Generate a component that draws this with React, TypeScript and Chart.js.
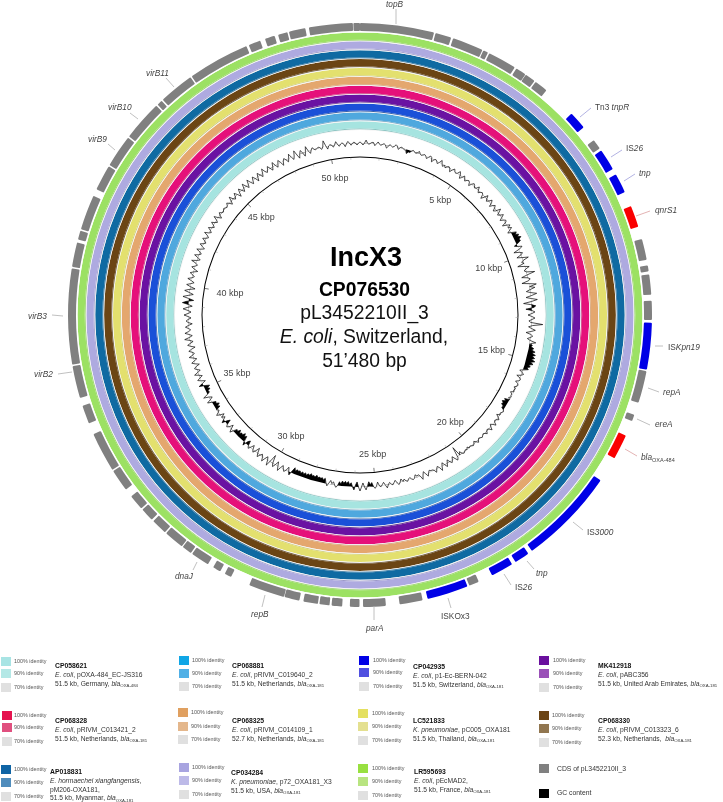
import React, { useEffect, useRef } from "react";
import Chart from "chart.js/auto";

const GENOME_LENGTH = 51480;

// CDS ring (bp)
const cdsStart = [0,2145,2660,3575,3761,4633,4948,5291,6635,7608,7965,8752,9738,10711,11469,11726,12470,13085,14457,15730,16359,17804,20706,21250,22308,22651,23967,25011,25754,26241,26598,26927,27456,27899,29487,29830,30230,30802,31117,31732,32247,32676,33362,34034,35493,36251,37209,39969,40755,41055,42257,43029,44001,45202,45403,46446,48277,48763,49149,49464,50036,51294];
const cdsEnd = [2102,2603,3546,3718,4576,4934,5248,5677,7150,7894,8580,9309,10353,11311,11640,12298,13013,14414,15373,15916,17074,20578,21135,21893,22594,23824,24625,25654,26026,26541,26884,27342,27885,28929,29687,30059,30759,31088,31689,32189,32633,33119,33991,35164,36022,37166,39926,40669,41012,42056,42986,43958,45159,45360,46404,48205,48620,49049,49421,49936,51280,51480];
const cdsType = ["c","c","c","c","c","c","c","c","m","c","m","m","r","c","c","c","c","m","c","c","r","m","m","m","c","m","c","c","c","c","c","c","c","c","c","c","c","c","c","c","c","c","c","c","c","c","c","c","c","c","c","c","c","c","c","c","c","c","c","c","c","c"];

// BLAST rings, outermost first
const ringNames = ["LR595693","CP034284","AP018831","CP068330","LC521833","CP068325","CP068328","MK412918","CP042935","CP068881","CP058621"];
const ringColors = ["#9ce163","#aeaae0","#0f6aa2","#6b4514","#e3e06e","#e4a76e","#e5107a","#6a12a2","#1a50d8","#4fa8de","#a6e4e0"];
const ringEdges = ["#92cf64","#9c99c8","#2f7098","#655030","#c8c66e","#cf9c70","#c9357c","#653a90","#3a62a8","#6aa0c0","#8cc4c2"];

// GC content: deviation from the mean, two values per degree
const gc000 = [1,0,-2,0,3,0,-1,0,1,1,-2,0,2,0,-1,0,1,0,-3,-1,1,0,-1,0,2,1,-2,0,1,0,-1,-1,-4,-2,-2,0,1,0,-1,0,2,0,-1,0,1,0,-2,0,2,1,-3,0,1,0,-2,0,3,0,-2,0];
const gc030 = [-2,0,1,0,-3,0,2,0,-1,0,3,1,-3,-1,2,0,-2,0,1,0,-3,0,2,1,-1,0,3,0,-2,0,1,0,-4,-1,3,0,-2,0,3,1,-3,0,2,0,-3,-1,4,1,-2,0,3,0,-3,0,2,1,-4,0,3,0];
const gc060 = [3,0,-3,1,5,3,6,4,7,4,5,2,-3,0,4,1,-6,-1,2,0,-5,0,6,0,-2,0,-7,-1,4,0,-2,0,8,0,-6,0,2,0,-7,0,7,0,5,0,-4,0,6,1,-5,0,6,0,-8,-1,4,2,-6,0,3,0];
const gc090 = [-4,0,3,0,-3,-1,11,1,-3,0,4,0,-5,0,2,0,-3,0,6,1,3,2,5,3,7,4,8,5,8,5,9,5,8,4,6,3,5,1,-3,0,2,0,-4,0,1,0,-3,0,1,0,-2,0,-1,0,-3,-1,-1,0,-2,0];
const gc120 = [-5,-3,-6,-4,-5,-2,-3,0,1,0,-1,0,-3,0,2,0,-1,0,3,0,-2,0,3,0,-1,0,2,0,-1,0,1,0,-1,0,2,0,-2,0,1,0,-1,0,-2,0,-1,0,1,0,-3,0,-10,1,3,0,-3,0,2,0,-3,0];
const gc150 = [3,0,-3,0,4,0,-2,0,3,0,-1,-1,-2,0,3,0,-3,0,4,0,-2,-1,-3,0,1,0,-2,-1,1,0,-2,0,-3,0,2,0,-3,-1,1,0,-2,0,3,0,-3,-1,1,0,-4,0,2,0,-4,-2,-5,-1,3,0,-4,0];
const gc180 = [4,0,-5,-2,3,0,-4,-2,-5,-3,-5,-3,-5,-2,-4,0,2,0,-3,-1,-4,-1,2,-1,-5,-3,-5,-4,-5,-4,-6,-4,-5,-4,-6,-4,-5,-3,-5,-3,-5,-3,-5,-4,-5,-3,-6,-2,3,0,-4,0,2,0,-3,0,4,0,-4,0];
const gc210 = [3,0,-8,-1,5,0,-3,0,4,0,-2,0,3,0,-5,-1,2,0,-4,-1,2,0,-5,-3,3,-1,-6,-4,-7,-4,-5,-3,-6,-3,-4,-1,3,0,-4,0,2,0,-5,-2,3,0,-3,0,-4,0,3,0,-2,0,-5,-3,-6,-3,-4,0];
const gc240 = [4,0,-3,0,5,0,-3,-2,-5,-3,-6,-2,4,0,-4,0,3,0,-3,0,4,0,-3,0,2,0,-4,0,3,0,-3,0,4,0,-2,0,3,0,-4,0,3,0,-3,0,5,0,-3,0,4,0,-2,0,3,0,-4,0,2,0,-3,0];
const gc270 = [4,0,-3,0,5,1,-4,0,6,2,-5,0,6,1,-4,0,5,1,-5,0,4,0,-3,0,4,0,-2,0,3,0,-4,0,3,0,-2,0,5,0,-3,0,4,0,-2,0,4,0,-3,0,3,0,-2,0,3,0,-2,0,4,0,-2,0];
const gc300 = [3,0,-2,0,3,0,-2,0,4,0,-3,0,2,0,-1,0,1,0,-1,0,2,0,-3,0,4,0,-2,0,3,0,-4,0,3,0,-3,0,4,0,-3,0,4,0,-3,0,3,0,-4,0,3,0,-3,0,4,0,-2,0,3,0,-3,0];
const gc330 = [4,0,-3,0,3,0,-4,0,2,0,-3,0,4,0,-3,0,5,0,-4,0,3,0,-4,0,5,0,-3,0,2,0,-1,0,1,0,-2,0,6,1,-3,0,1,0,-2,0,3,0,-2,0,1,0,-3,0,2,0,-2,0,1,0,-2,0];
const gcDeviation = [...gc000,...gc030,...gc060,...gc090,...gc120,...gc150,...gc180,...gc210,...gc240,...gc270,...gc300,...gc330];

const kbpMarks = [5,10,15,20,25,30,35,40,45,50];
const kbpLabelRadius = [140,137,136,140,140,139,136,132,139,139];

// Legend
const legendAccession = ["CP058621","CP068881","CP042935","MK412918","CP068328","CP068325","LC521833","CP068330","AP018831","CP034284","LR595693"];
const legendSpecies = ["E. coli","E. coli","E. coli","E. coli","E. coli","E. coli","K. pneumoniae","E. coli","E. hormaechei xiangfangensis","K. pneumoniae","E. coli"];
const legendPlasmid = ["pOXA-484_EC-JS316","pRIVM_C019640_2","p1-Ec-BERN-042","pABC356","pRIVM_C013421_2","pRIVM_C014109_1","pC005_OXA181","pRIVM_C013323_6","pM206-OXA181","p72_OXA181_X3","pEcMAD2"];
const legendSummary = ["51.5 kb, Germany, ","51.5 kb, Netherlands, ","51.5 kb, Switzerland, ","51.5 kb, United Arab Emirates, ","51.5 kb, Netherlands, ","52.7 kb, Netherlands, ","51.5 kb, Thailand, ","52.3 kb, Netherlands,  ","51.5 kb, Myanmar, ","51.5 kb, USA, ","51.5 kb, France, "];
const legendBla = ["OXA-484","OXA-181","OXA-181","OXA-181","OXA-181","OXA-181","OXA-181","OXA-181","OXA-181","OXA-181","OXA-181"];
const swatch100 = ["#a8e4e4","#10a6e6","#0000e6","#6a0f9e","#e5134f","#e0a060","#e4e060","#6b4414","#0f64a5","#a8a4e0","#98e040"];
const swatch90 = ["#b4e8e6","#50b0e6","#5050e0","#9a50b8","#e0507f","#e4b78c","#e4e090","#917650","#4f8cbc","#bdbae8","#b8e480"];
const swatch70 = "#e0e0e0";

// Layout only, legend blocks in the same order: swatch x, three swatch y, label x, text x, name y
const legendLayout = [
  [1,657,669,683,14,55,666],[179,656,669,682,192,232,666],[359,656,668,682,373,413,667],[539,656,669,683,553,598,666],
  [2,711,723,737,14,55,721],[178,708,722,735,191,232,721],[358,709,722,736,372,413,721],[539,711,724,738,552,598,721],
  [1,765,778,792,14,50,772],[179,763,776,790,192,231,773],[358,764,777,791,372,414,772],
];

// Gene labels with their layout: x, y, leader x1,y1,x2,y2, leader colour
type Gene = { parts: [string, "r" | "i" | "s"][]; x: number; y: number; l: number[]; c: string };
const GREY = "#b0b0b0", BL = "#a0a0dc", RD = "#dca0a0";
const genes: Gene[] = [
  { parts: [["topB","i"]], x: 386, y: 4, l: [396,9,396,24], c: GREY },
  { parts: [["Tn3 ","r"],["tnpR","i"]], x: 595, y: 107, l: [591,108,580,117], c: BL },
  { parts: [["IS","r"],["26","i"]], x: 626, y: 148, l: [622,150,611,157], c: BL },
  { parts: [["tnp","i"]], x: 639, y: 173, l: [635,174,624,181], c: BL },
  { parts: [["qnrS1","i"]], x: 655, y: 210, l: [650,211,636,216], c: RD },
  { parts: [["IS","r"],["Kpn19","i"]], x: 668, y: 347, l: [663,346,655,346], c: GREY },
  { parts: [["repA","i"]], x: 663, y: 392, l: [659,392,648,388], c: GREY },
  { parts: [["ereA","i"]], x: 655, y: 424, l: [650,425,637,419], c: GREY },
  { parts: [["bla","i"],["OXA-484","s"]], x: 641, y: 457, l: [637,456,625,449], c: RD },
  { parts: [["IS","r"],["3000","i"]], x: 587, y: 532, l: [583,530,573,522], c: GREY },
  { parts: [["tnp","i"]], x: 536, y: 573, l: [534,569,527,561], c: GREY },
  { parts: [["IS","r"],["26","i"]], x: 515, y: 587, l: [511,585,504,574], c: GREY },
  { parts: [["IS","r"],["KOx3","r"]], x: 441, y: 616, l: [451,608,448,598], c: GREY },
  { parts: [["parA","i"]], x: 366, y: 628, l: [374,620,374,606], c: GREY },
  { parts: [["repB","i"]], x: 251, y: 614, l: [262,607,265,595], c: GREY },
  { parts: [["dnaJ","i"]], x: 175, y: 576, l: [193,570,197,562], c: GREY },
  { parts: [["virB2","i"]], x: 34, y: 374, l: [58,374,72,372], c: GREY },
  { parts: [["virB3","i"]], x: 28, y: 316, l: [52,315,63,316], c: GREY },
  { parts: [["virB9","i"]], x: 88, y: 139, l: [108,144,115,150], c: GREY },
  { parts: [["virB10","i"]], x: 108, y: 107, l: [130,113,138,119], c: GREY },
  { parts: [["virB11","i"]], x: 146, y: 73, l: [166,78,174,87], c: GREY },
];

const FONT = '"Liberation Sans", Arial, sans-serif';
const CX = 360, CY = 315;
const R_OUT = 292, R_GC = 184;
const W = 723, H = 802;

const CDS_COLORS: Record<string, string> = { c: "#808080", m: "#0000e6", r: "#fa0000" };

function cdsArcs() {
  const data: number[] = [];
  const colors: string[] = [];
  let pos = 0;
  cdsStart.forEach((s, i) => {
    if (s > pos) { data.push(s - pos); colors.push("rgba(0,0,0,0)"); }
    data.push(cdsEnd[i] - s);
    colors.push(CDS_COLORS[cdsType[i]]);
    pos = cdsEnd[i];
  });
  return { data, backgroundColor: colors, weight: 8, borderWidth: 0, borderRadius: 1 };
}

function ringDatasets() {
  const sets: any[] = [cdsArcs(), { data: [GENOME_LENGTH], backgroundColor: ["#ffffff"], weight: 1.5, borderWidth: 0 }];
  ringNames.forEach((name, i) => {
    sets.push({ label: name, data: [GENOME_LENGTH], backgroundColor: [ringColors[i]], weight: 7.2, borderWidth: 0 });
    sets.push({ data: [GENOME_LENGTH], backgroundColor: [ringEdges[i]], weight: 0.8, borderWidth: 0 });
    sets.push({ data: [GENOME_LENGTH], backgroundColor: ["#f4f4f4"], weight: 0.86, borderWidth: 0 });
  });
  sets.push({ data: [GENOME_LENGTH], backgroundColor: ["rgba(0,0,0,0)"], weight: 26.5, borderWidth: 0 });
  sets.push({ data: [GENOME_LENGTH], backgroundColor: ["#000000"], weight: 1, borderWidth: 0 });
  return sets;
}

// Solid stretches of the GC plot: runs where the in-between value stays away from the baseline
const gcSolid = gcDeviation.map((v, i) => {
  const big = (x: number | undefined) => x !== undefined && Math.abs(x) >= 2;
  if (!big(v)) return 0;
  if (i % 2 === 1) return v;
  return big(gcDeviation[i + 1]) || big(gcDeviation[i - 1]) ? v : 0;
});

const overlayPlugin = {
  id: "overlay",
  afterDatasetsDraw(chart: any) {
    const ctx = chart.ctx;
    ctx.save();
    for (let kb = 1; kb <= 51; kb++) {
      const a = (kb * 1000) / GENOME_LENGTH * 2 * Math.PI;
      const major = kb % 5 === 0;
      const r1 = 157.5, r2 = r1 - (major ? 4 : 2);
      ctx.strokeStyle = major ? "#555" : "#bbb";
      ctx.lineWidth = 0.8;
      ctx.beginPath();
      ctx.moveTo(CX + r1 * Math.sin(a), CY - r1 * Math.cos(a));
      ctx.lineTo(CX + r2 * Math.sin(a), CY - r2 * Math.cos(a));
      ctx.stroke();
    }
    genes.forEach((g) => {
      ctx.strokeStyle = g.c;
      ctx.lineWidth = 0.8;
      ctx.beginPath();
      ctx.moveTo(g.l[0], g.l[1]);
      ctx.lineTo(g.l[2], g.l[3]);
      ctx.stroke();
    });
    ctx.restore();
  },
};

const abs = (x: number, y: number, fontSize: number, extra: any = {}): React.CSSProperties => ({
  position: "absolute", left: x, top: y, fontSize, lineHeight: 1, whiteSpace: "pre",
  transform: "translateY(-50%)", fontFamily: FONT, color: "#333", ...extra,
});

const Sub = ({ t, size = 4.3 }: { t: string; size?: number }) => (
  <span style={{ fontSize: size, position: "relative", top: 1.5, fontStyle: "normal" }}>{t}</span>
);

function Legend({ i }: { i: number }) {
  const [sx, y1, y2, y3, lx, tx, ny] = legendLayout[i];
  const sw = (y: number, c: string) => (
    <div style={{ position: "absolute", left: sx, top: y, width: 9.5, height: 9, background: c }} />
  );
  const lab = (y: number, t: string) => <div style={abs(lx, y + 4.5, 5.4, { color: "#555" })}>{t}</div>;
  const three = legendAccession[i] === "AP018831";
  const twoLine = legendAccession[i] === "LR595693";
  return (
    <>
      {sw(y1, swatch100[i])}{sw(y2, swatch90[i])}{sw(y3, swatch70)}
      {lab(y1, "100% identity")}{lab(y2, "90% identity")}{lab(y3, "70% identity")}
      <div style={abs(tx, ny, 6.8, { fontWeight: "bold", color: "#111" })}>{legendAccession[i]}</div>
      {three ? (
        <>
          <div style={abs(tx, ny + 9, 6.7)}><i>{legendSpecies[i]}</i>,</div>
          <div style={abs(tx, ny + 17.5, 6.7)}>{legendPlasmid[i]},</div>
          <div style={abs(tx, ny + 26, 6.7)}>{legendSummary[i]}<i>bla</i><Sub t={legendBla[i]} /></div>
        </>
      ) : (
        <>
          <div style={abs(tx, ny + 9, 6.7)}><i>{legendSpecies[i]}</i>, {legendPlasmid[i]}{twoLine ? "," : ""}</div>
          <div style={abs(tx, ny + 17.5, 6.7)}>{legendSummary[i]}<i>bla</i><Sub t={legendBla[i]} /></div>
        </>
      )}
    </>
  );
}

export default function App() {
  const ringRef = useRef<HTMLCanvasElement>(null);
  const gcRef = useRef<HTMLCanvasElement>(null);

  useEffect(() => {
    const rings = new Chart(ringRef.current as any, {
      type: "doughnut",
      data: { labels: [], datasets: ringDatasets() },
      options: {
        animation: false, responsive: false, events: [],
        cutout: 157.5,
        layout: { padding: { left: CX - R_OUT, right: W - CX - R_OUT, top: CY - R_OUT, bottom: H - CY - R_OUT } },
        plugins: { legend: { display: false }, tooltip: { enabled: false } },
      },
      plugins: [overlayPlugin],
    } as any);
    const gc = new Chart(gcRef.current as any, {
      type: "radar",
      data: {
        labels: gcDeviation.map((_, i) => String(i)),
        datasets: [
          { label: "GC content", data: gcDeviation, borderColor: "#000", borderWidth: 0.7, pointRadius: 0, tension: 0, fill: false },
          { label: "GC solid", data: gcSolid, borderWidth: 0, backgroundColor: "#000", pointRadius: 0, tension: 0, fill: { value: 0 } },
        ],
      },
      options: {
        animation: false, responsive: false, events: [],
        layout: { padding: 0 },
        scales: {
          r: {
            min: -172, max: 12,
            grid: { display: false, circular: true },
            angleLines: { display: false },
            pointLabels: { display: false },
            ticks: { display: false },
          },
        },
        plugins: { legend: { display: false }, tooltip: { enabled: false } },
      },
    } as any);
    return () => { rings.destroy(); gc.destroy(); };
  }, []);

  return (
    <div style={{ position: "absolute", left: 0, top: 0, width: W, height: H, overflow: "hidden", background: "#fff", fontFamily: FONT, filter: "blur(0.35px)" }}>
      <canvas ref={ringRef} width={W} height={H} style={{ position: "absolute", left: 0, top: 0, width: W, height: H }} />
      <canvas ref={gcRef} width={R_GC * 2} height={R_GC * 2} style={{ position: "absolute", left: CX - R_GC, top: CY - R_GC, width: R_GC * 2, height: R_GC * 2 }} />

      {kbpMarks.map((kb, i) => {
        const a = (kb * 1000) / GENOME_LENGTH * 2 * Math.PI;
        const r = kbpLabelRadius[i];
        return (
          <div key={kb} style={abs(CX + r * Math.sin(a), CY - r * Math.cos(a), 9, { transform: "translate(-50%,-50%)", color: "#444" })}>{kb} kbp</div>
        );
      })}

      <div style={abs(CX + 6, 257, 27, { transform: "translate(-50%,-50%)", fontWeight: "bold", color: "#000" })}>IncX3</div>
      <div style={abs(CX + 4.5, 290, 19.3, { transform: "translate(-50%,-50%)", fontWeight: "bold", color: "#000" })}>CP076530</div>
      <div style={abs(CX + 4.5, 313, 19.3, { transform: "translate(-50%,-50%)", color: "#111" })}>pL3452210II_3</div>
      <div style={abs(CX + 4, 337, 19.3, { transform: "translate(-50%,-50%)", color: "#111" })}><i>E. coli</i>, Switzerland,</div>
      <div style={abs(CX + 4.5, 361, 19.3, { transform: "translate(-50%,-50%)", color: "#111" })}>51’480 bp</div>

      {genes.map((g, i) => (
        <div key={i} style={abs(g.x, g.y, 8.3, { color: "#444" })}>
          {g.parts.map(([t, k], j) =>
            k === "i" ? <i key={j}>{t}</i> : k === "s" ? <Sub key={j} t={t} size={5.5} /> : <span key={j}>{t}</span>
          )}
        </div>
      ))}

      {legendAccession.map((_, i) => <Legend key={i} i={i} />)}

      <div style={{ position: "absolute", left: 539, top: 764, width: 9.5, height: 9, background: "#808080" }} />
      <div style={abs(557, 768.5, 6.8)}>CDS of pL3452210II_3</div>
      <div style={{ position: "absolute", left: 539, top: 789, width: 9.5, height: 9, background: "#000" }} />
      <div style={abs(557, 793, 6.8)}>GC content</div>
    </div>
  );
}
